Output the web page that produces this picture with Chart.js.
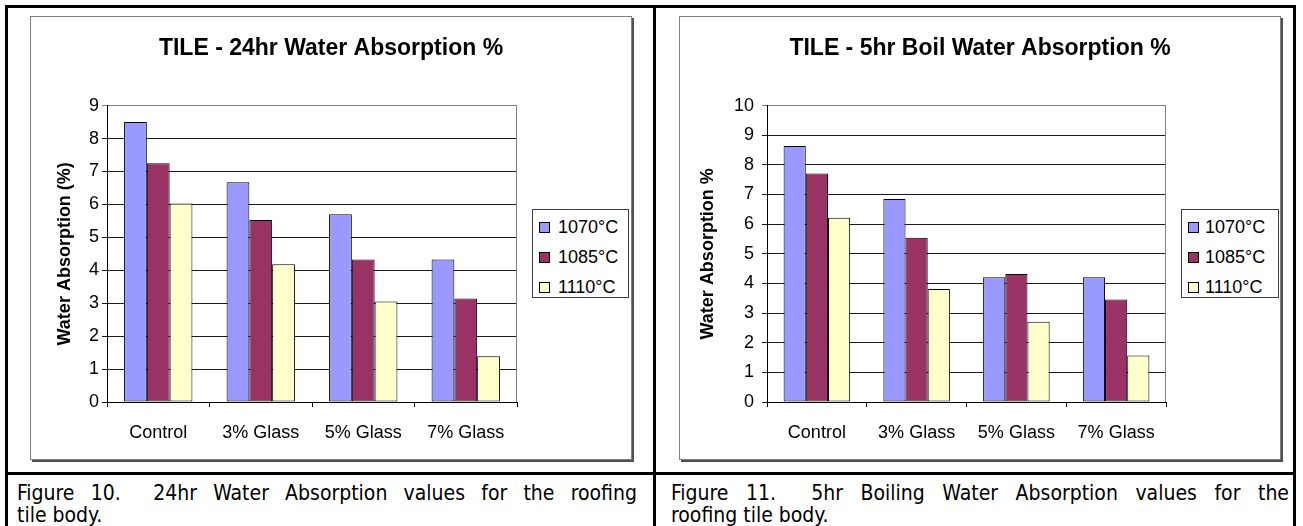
<!DOCTYPE html>
<html>
<head>
<meta charset="utf-8">
<script src="https://cdn.jsdelivr.net/npm/chart.js@4/dist/chart.umd.min.js"></script>
<style>
  html, body { margin: 0; padding: 0; background: #fff; }
  body { width: 1303px; height: 526px; position: relative; overflow: hidden; font-family: "Liberation Sans", Arial, sans-serif; }
  .line { position: absolute; background: #000; }
  .frame { position: absolute; width: 600px; height: 442px; border: 1px solid #7f7f7f; box-shadow: 2px 2px 0 #505050; background: #fff; }
  .frame canvas { position: absolute; left: 0; top: 0; }
  .legend { position: absolute; border: 1px solid #404040; background: #fff; box-sizing: border-box; }
  .legend .item { position: absolute; left: 0; height: 22px; line-height: 22px; font-size: 18px; color: #000; white-space: nowrap; }
  .legend .sw { position: absolute; top: 6px; width: 9px; height: 9px; border: 1px solid #000; }
  .legend .tx { position: absolute; top: 0; }
  .caption { position: absolute; font-family: "DejaVu Sans Condensed", "DejaVu Sans", sans-serif; font-stretch: condensed; font-size: 21px; color: #000; }
  .caption .l1 { text-align: justify; text-align-last: justify; white-space: nowrap; height: 22px; line-height: 22px; }
  .caption .l2 { height: 22px; line-height: 22px; }
</style>
</head>
<body>
<div class="line" style="left:5px; top:5px; width:1291px; height:3px;"></div>
<div class="line" style="left:5px; top:5px; width:3px; height:521px;"></div>
<div class="line" style="left:653px; top:5px; width:3px; height:521px;"></div>
<div class="line" style="left:1293px; top:5px; width:3px; height:521px;"></div>
<div class="line" style="left:5px; top:472px; width:1291px; height:3px;"></div>

<div class="frame" style="left:30px; top:16px;"><canvas id="c1" width="600" height="442"></canvas></div>
<div class="frame" style="left:679px; top:16px;"><canvas id="c2" width="600" height="442"></canvas></div>

<div class="legend" id="lg1" style="left:532px; top:209px; width:97px; height:89px;"></div>
<div class="legend" id="lg2" style="left:1181px; top:209px; width:98px; height:89px;"></div>

<div class="caption" style="left:17px; top:482px; width:620px;">
  <div class="l1">Figure 10.&nbsp; 24hr Water Absorption values for the roofing</div>
  <div class="l2">tile body.</div>
</div>
<div class="caption" style="left:671px; top:482px; width:618px;">
  <div class="l1">Figure 11.&nbsp; 5hr Boiling Water Absorption values for the</div>
  <div class="l2">roofing tile body.</div>
</div>

<script>
// ---- data ----
const categories = ['Control', '3% Glass', '5% Glass', '7% Glass'];
const seriesNames = ['1070°C', '1085°C', '1110°C'];
const seriesColors = ['#9999FF', '#993366', '#FFFFCC'];

const soak24_1070 = [8.50, 6.67, 5.70, 4.33];
const soak24_1085 = [7.25, 5.53, 4.33, 3.14];
const soak24_1110 = [6.03, 4.18, 3.05, 1.39];

const boil5_1070 = [8.64, 6.85, 4.21, 4.21];
const boil5_1085 = [7.71, 5.54, 4.32, 3.46];
const boil5_1110 = [6.22, 3.81, 2.71, 1.57];

const title24 = 'TILE - 24hr Water Absorption %';
const titleBoil = 'TILE - 5hr Boil Water Absorption %';
const yTitle24 = 'Water Absorption (%)';
const yTitleBoil = 'Water Absorption %';
const yMax24 = 9;
const yMaxBoil = 10;

const FONT = '"Liberation Sans", Arial, sans-serif';

const plotBorder = {
  id: 'plotBorder',
  afterDatasetsDraw(chart) {
    const a = chart.chartArea, ctx = chart.ctx;
    ctx.save();
    ctx.strokeStyle = '#808080';
    ctx.lineWidth = 1;
    ctx.beginPath();
    ctx.moveTo(Math.round(a.right) - 0.5, a.top);
    ctx.lineTo(Math.round(a.right) - 0.5, a.bottom);
    ctx.stroke();
    ctx.restore();
  }
};

function makeChart(id, seriesList, title, yTitle, yMax, yWidth, yTitlePad, tickPad) {
  const datasets = seriesList.map((vals, i) => ({
    label: seriesNames[i],
    data: vals,
    backgroundColor: seriesColors[i],
    borderColor: '#000',
    borderWidth: 1,
    borderSkipped: false,
    categoryPercentage: 0.667,
    barPercentage: 1.0
  }));
  return new Chart(document.getElementById(id), {
    type: 'bar',
    data: { labels: categories, datasets },
    plugins: [plotBorder],
    options: {
      responsive: false,
      animation: false,
      devicePixelRatio: 1,
      events: [],
      layout: { padding: 0 },
      plugins: {
        legend: { display: false },
        tooltip: { enabled: false },
        title: {
          display: true,
          text: title,
          color: '#000',
          font: { family: FONT, size: 23, weight: 'bold' },
          padding: { top: 18, bottom: 43 }
        }
      },
      scales: {
        x: {
          afterFit(s) { s.height = 57; },
          grid: { offset: true, drawOnChartArea: false, color: '#000', tickLength: 5 },
          border: { color: '#000', width: 1 },
          ticks: { color: '#000', font: { family: FONT, size: 18 }, padding: 15, maxRotation: 0 }
        },
        y: {
          min: 0, max: yMax,
          afterFit(s) { s.width = yWidth; },
          grid: {
            color: (ctx) => (ctx.tick && ctx.tick.value === yMax) ? '#808080' : '#1a1a1a',
            tickLength: 5
          },
          border: { color: '#000', width: 1 },
          ticks: { stepSize: 1, color: '#000', font: { family: FONT, size: 18 }, padding: tickPad },
          title: {
            display: true,
            text: yTitle,
            color: '#000',
            font: { family: FONT, size: 18, weight: 'bold' },
            padding: { top: yTitlePad, bottom: 0 }
          }
        },
        legendSpace: {
          type: 'linear',
          position: 'right',
          display: true,
          afterFit(s) { s.width = 114; },
          grid: { display: false, drawTicks: false },
          border: { display: false },
          ticks: { display: false }
        }
      }
    }
  });
}

function makeLegend(id, sqLeft, txLeft) {
  const el = document.getElementById(id);
  const rowTops = [6, 36, 66];
  seriesNames.forEach((name, i) => {
    const item = document.createElement('div');
    item.className = 'item';
    item.style.top = rowTops[i] + 'px';
    const sw = document.createElement('div');
    sw.className = 'sw';
    sw.style.left = sqLeft + 'px';
    sw.style.background = seriesColors[i];
    const tx = document.createElement('span');
    tx.className = 'tx';
    tx.style.left = txLeft + 'px';
    tx.textContent = name;
    item.appendChild(sw);
    item.appendChild(tx);
    el.appendChild(item);
  });
}

makeChart('c1', [soak24_1070, soak24_1085, soak24_1110], title24, yTitle24, yMax24, 76, 23, 3);
makeChart('c2', [boil5_1070, boil5_1085, boil5_1110], titleBoil, yTitleBoil, yMaxBoil, 87, 17, 8);
makeLegend('lg1', 6, 25);
makeLegend('lg2', 6, 23);
</script>
</body>
</html>
